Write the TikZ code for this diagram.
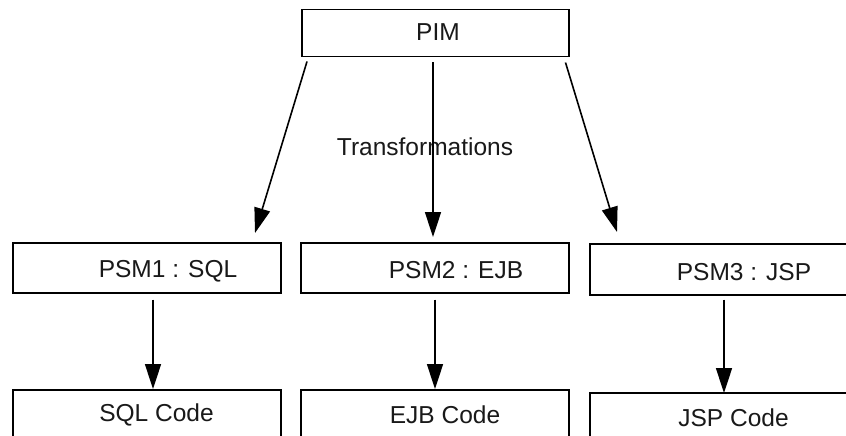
\documentclass[tikz,border=0pt]{standalone}
\usepackage{fontspec}
\setmainfont{Liberation Sans}
\usetikzlibrary{arrows.meta,calc}

\tikzset{
  modelbox/.style={draw=black, line width=1.5pt, minimum width=#1, minimum height=50pt,
    inner sep=0pt, anchor=north west},
  modelbox/.default=268pt,
  boxtext/.style={font=\fontsize{24.5}{28}\selectfont, text=black!90, inner sep=0pt},
  flow/.style={draw=black, line width=1.6pt,
    -{Triangle[length=25pt,width=16pt]}},
}

\begin{document}
\begin{tikzpicture}[x=1pt,y=-1pt]
  \useasboundingbox (0,0) rectangle (846,436);
  \clip (0,0) rectangle (846,436);
  \fill[white] (0,0) rectangle (846,436);

  % platform independent model
  \node[modelbox=267pt, minimum height=47pt] (pim) at (301,9) {};
  \node[boxtext] (pimtext) at (438,32) {PIM};

  % platform specific models
  \node[modelbox] (psm1) at (12,242) {};
  \node[modelbox] (psm2) at (300,242) {};
  \node[modelbox=300pt, minimum height=51pt] (psm3) at (589,243) {};
  \node[boxtext] (psm1text) at (168,271) {PSM1 : SQL};
  \node[boxtext] (psm2text) at (456,270.5) {PSM2 : EJB};
  \node[boxtext] (psm3text) at (744,272) {PSM3 : JSP};

  % generated code
  \node[modelbox, minimum height=80pt] (sql) at (12,389) {};
  \node[modelbox, minimum height=80pt] (ejb) at (300,389) {};
  \node[modelbox=300pt, minimum height=80pt] (jsp) at (589,392) {};
  \node[boxtext] (sqltext) at (156.5,415) {SQL Code};
  \node[boxtext] (ejbtext) at (445,415) {EJB Code};
  \node[boxtext] (jsptext) at (733.5,418) {JSP Code};

  \node[boxtext] (trans) at (425,147) {Transformations};

  % transformations from the PIM
  \draw[flow] ([xshift=6pt,yshift=-4pt]pim.south west) -- ([xshift=243pt,yshift=9pt]psm1.north west);
  \draw[flow] ([xshift=132pt,yshift=-5pt]pim.south west) -- ([xshift=133pt,yshift=5pt]psm2.north west);
  \draw[flow] ([xshift=-4pt,yshift=-5pt]pim.south east) -- ([xshift=28pt,yshift=11pt]psm3.north west);

  % code generation
  \draw[flow] ([xshift=141pt,yshift=-6pt]psm1.south west) -- ([xshift=141pt]sql.north west);
  \draw[flow] ([xshift=135pt,yshift=-6pt]psm2.south west) -- ([xshift=135pt]ejb.north west);
  \draw[flow] ([xshift=135pt,yshift=-4pt]psm3.south west) -- ([xshift=135pt,yshift=-1pt]jsp.north west);
\end{tikzpicture}
\end{document}
